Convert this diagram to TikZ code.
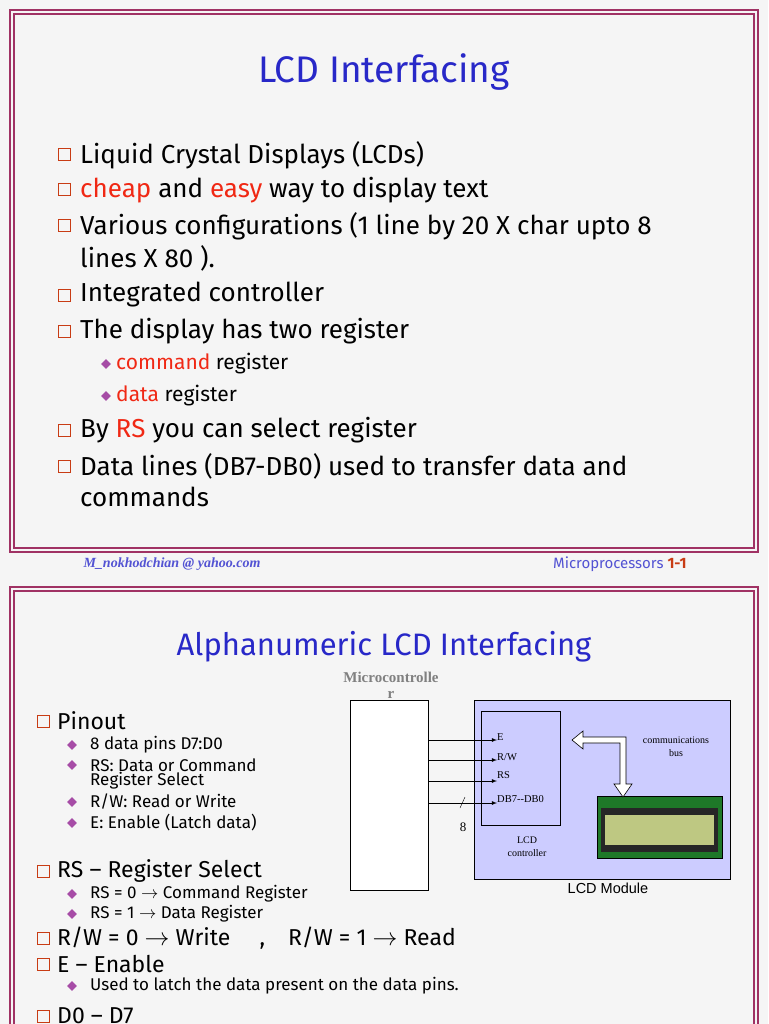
\documentclass[tikz,border=0pt]{standalone}
\usepackage{fontspec}
\setmainfont{Fira Sans}
\newfontfamily\serifx{Liberation Serif}
\newfontfamily\sansx{Liberation Sans}
\usepackage{xcolor}
\usetikzlibrary{shapes.geometric}
\definecolor{slideblue}{RGB}{40,40,200}
\definecolor{framered}{RGB}{160,50,100}
\definecolor{hotred}{RGB}{240,40,20}
\definecolor{boxorange}{RGB}{200,60,20}
\definecolor{modfill}{RGB}{204,204,255}
\definecolor{pcbgreen}{RGB}{30,120,40}
\definecolor{lcdscreen}{RGB}{190,200,130}

\begin{document}
\begin{tikzpicture}[x=1pt, y=-1pt]
    \tikzstyle{frame} = [draw=framered, line width=1.2pt]
    \tikzstyle{title} = [text=slideblue, font=\fontsize{37}{40}\selectfont]
    \tikzstyle{item} = [anchor=west, font=\fontsize{26}{28}\selectfont, inner sep=0pt]
    \tikzstyle{big} = [anchor=west, font=\fontsize{23}{25}\selectfont, inner sep=0pt]
    \tikzstyle{small} = [anchor=west, font=\fontsize{17}{19}\selectfont, inner sep=0pt]
    \tikzstyle{sub} = [anchor=west, font=\fontsize{21}{23}\selectfont, inner sep=0pt]
    \tikzstyle{lbl} = [font=\serifx\fontsize{10.5}{11}\selectfont, inner sep=0pt]
    \tikzstyle{sig} = [->, >=latex, line width=0.8pt]
    \newcommand{\sq}[2]{\draw[boxorange, line width=1pt] (#1-6,#2-6) rectangle (#1+6,#2+6);}
    \newcommand{\dm}[2]{\node[diamond, fill=violet!70, inner sep=2.5pt] at (#1,#2) {};}

    % background
    \useasboundingbox (0,0) rectangle (768,1024);
    \clip (0,0) rectangle (768,1024);
    \fill[gray!8] (0,0) rectangle (768,1024);

    % slide 1
    \draw[frame] (10,10) rectangle (758,552);
    \draw[frame] (14,14) rectangle (754,548);
    \node[title] (t1) at (384,72) {LCD Interfacing};
    \sq{64}{155}\node[item] (a1) at (80,155) {Liquid Crystal Displays (LCDs)};
    \sq{64}{190}\node[item] (a2) at (80,190) {\textcolor{hotred}{cheap} and \textcolor{hotred}{easy} way to display text};
    \sq{64}{226}\node[item] (a3) at (80,226) {Various configurations (1 line by 20 X char upto 8};
    \node[item] (a3b) at (80,258) {lines X 80 ).};
    \sq{64}{295}\node[item] (a4) at (80,295) {Integrated controller};
    \sq{64}{331}\node[item] (a5) at (80,331) {The display has two register};
    \dm{106}{364}\node[sub] (a6) at (116,364) {\textcolor{hotred}{command} register};
    \dm{106}{396}\node[sub] (a7) at (116,396) {\textcolor{hotred}{data} register};
    \sq{64}{430}\node[item] (a8) at (80,430) {By \textcolor{hotred}{RS} you can select register};
    \sq{64}{466}\node[item] (a9) at (80,466) {Data lines (DB7-DB0) used to transfer data and};
    \node[item] (a9b) at (80,497) {commands};

    % footer
    \node[anchor=west, text=slideblue!80, font=\serifx\itshape\bfseries\fontsize{14}{16}\selectfont] (mail) at (80,564) {M\_nokhodchian @ yahoo.com};
    \node[anchor=east, text=slideblue!80, font=\fontsize{15}{17}\selectfont] (foot) at (690,564) {Microprocessors \textcolor{boxorange}{\textbf{1-1}}};

    % slide 2
    \draw[frame] (10,587) rectangle (758,1040);
    \draw[frame] (14,591) rectangle (754,1036);
    \node[title, font=\fontsize{31}{34}\selectfont] (t2) at (384,647) {Alphanumeric LCD Interfacing};
    \sq{43}{721}\node[big] (b1) at (57,721) {Pinout};
    \dm{72}{745}\node[small] (b2) at (90,745) {8 data pins D7:D0};
    \dm{72}{765}\node[small] (b3) at (90,765) {RS: Data or Command};
    \node[small] (b3b) at (90,781) {Register Select};
    \dm{72}{802}\node[small] (b4) at (90,802) {R/W: Read or Write};
    \dm{72}{823}\node[small] (b5) at (90,823) {E: Enable (Latch data)};
    \sq{43}{871}\node[big] (b6) at (57,871) {RS -- Register Select};
    \dm{72}{894}\node[small] (b7) at (90,894) {RS = 0 $\rightarrow$ Command Register};
    \dm{72}{914}\node[small] (b8) at (90,914) {RS = 1 $\rightarrow$ Data Register};
    \sq{43}{938}\node[big] (b9) at (57,938) {R/W = 0 $\rightarrow$ Write \quad ,\quad R/W = 1 $\rightarrow$ Read};
    \sq{43}{964}\node[big] (b10) at (57,964) {E -- Enable};
    \dm{72}{986}\node[small] (b11) at (90,986) {Used to latch the data present on the data pins.};
    \sq{43}{1016}\node[big] (b12) at (57,1016) {D0 -- D7};

    % diagram: microcontroller
    \node[draw, fill=white, minimum width=78pt, minimum height=190pt, anchor=north west] (mcu) at (350,700) {};
    \node[text=gray, font=\serifx\bfseries\fontsize{15}{16}\selectfont, align=center] (mcul) at (391,685) {Microcontrolle\\r};

    % LCD module
    \node[draw, fill=modfill, minimum width=256pt, minimum height=179pt, anchor=north west] (mod) at (474,700) {};
    \node[font=\sansx\fontsize{14.5}{16}\selectfont] (modl) at (608,888) {LCD Module};
    \node[draw, minimum width=79pt, minimum height=114pt, anchor=north west] (ctrl) at (481,711) {};
    \node[lbl, align=center, font=\serifx\fontsize{10}{13}\selectfont] (ctrll) at (527,847) {LCD\\controller};
    \node[lbl, align=center, font=\serifx\fontsize{10}{13}\selectfont] (busl) at (676,747) {communications\\bus};

    % pins
    \node[lbl, anchor=west] (pe) at (497,737) {E};
    \node[lbl, anchor=west] (prw) at (497,757) {R/W};
    \node[lbl, anchor=west] (prs) at (497,775) {RS};
    \node[lbl, anchor=west] (pdb) at (497,799) {DB7--DB0};
    \coordinate (se) at (428,740);
    \coordinate (srw) at (428,760);
    \coordinate (srs) at (428,781);
    \coordinate (sdb) at (428,803);
    \draw[sig] (se) -- (pe.west |- se);
    \draw[sig] (srw) -- (prw.west |- srw);
    \draw[sig] (srs) -- (prs.west |- srs);
    \draw[sig] (sdb) -- (pdb.west |- sdb);
    \draw (460,808) -- (465,797);
    \node[lbl, font=\serifx\fontsize{13}{14}\selectfont] (eight) at (463,827) {8};

    % LCD panel
    \node[fill=pcbgreen, draw=black, minimum width=125pt, minimum height=62pt, anchor=north west] (panel) at (597,796) {};
    \fill[black!85] (601,808) rectangle (718,852);
    \fill[lcdscreen] (605,815) rectangle (714,845);

    % bus arrow
    \draw[fill=white, line width=0.6pt] (572,740) -- (583,731) -- (583,737) -- (626,737) -- (626,784)
        -- (632,784) -- (623,797) -- (614,784) -- (620,784) -- (620,743) -- (583,743) -- (583,749) -- cycle;
\end{tikzpicture}
\end{document}
